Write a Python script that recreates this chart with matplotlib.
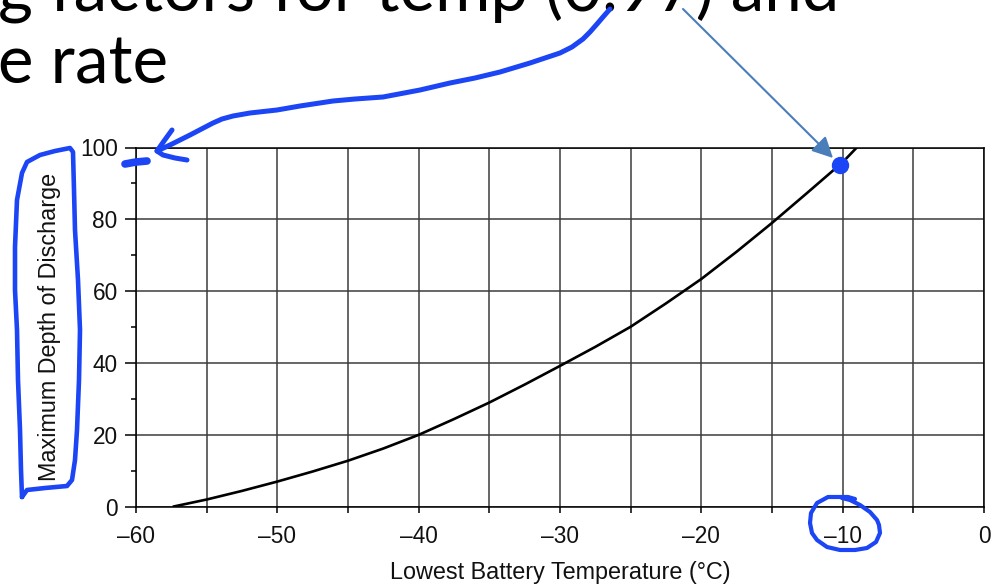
import matplotlib
matplotlib.use("Agg")
import matplotlib.pyplot as plt
from matplotlib.lines import Line2D
from matplotlib.patches import FancyArrowPatch
from matplotlib.transforms import Affine2D

# ---------------- data ----------------
temp_c = [-57.4, -55, -52.5, -50, -47.5, -45, -42.5, -40, -37.5, -35, -32.5,
          -30, -27.5, -25, -22.5, -20, -17.5, -15, -12.5, -10, -9.0]
max_dod = [0, 2.0, 4.4, 7.0, 9.8, 12.8, 16.2, 20.0, 24.4, 29.0, 34.0,
           39.2, 44.5, 50.1, 56.6, 63.4, 71.0, 79.0, 87.4, 95.9, 100.0]

x_major = [-60, -50, -40, -30, -20, -10, 0]
x_labels = ["\u201360", "\u201350", "\u201340", "\u201330", "\u201320", "\u201310", "0"]
x_minor = [-55, -45, -35, -25, -15, -5]
y_major = [0, 20, 40, 60, 80, 100]
y_labels = ["0", "20", "40", "60", "80", "100"]
y_minor = [10, 30, 50, 70, 90]

highlight_x = [-10.2]
highlight_y = [95.1]

title_line1 = "g factors for temp (0.97) and"
title_line2 = "e rate"
x_title = "Lowest Battery Temperature (\u00b0C)"
y_title = "Maximum Depth of Discharge"

# ---------------- figure ----------------
W, H = 998, 585
fig = plt.figure(figsize=(W / 100, H / 100), dpi=100)
fig.patch.set_facecolor("white")
pxT = Affine2D().scale(1 / W, -1 / H).translate(0, 1) + fig.transFigure

L, R, T, B = 136, 984, 147.5, 506.7
ax = fig.add_axes([L / W, 1 - B / H, (R - L) / W, (B - T) / H])

ax.plot(temp_c, max_dod, color="black", lw=1.9, zorder=4,
        solid_joinstyle="round", solid_capstyle="butt")
ax.set_xlim(-60, 0)
ax.set_ylim(0, 100)

ax.set_xticks(x_major)
ax.set_xticklabels(x_labels)
ax.set_xticks(x_minor, minor=True)
ax.set_yticks(y_major)
ax.set_yticklabels(y_labels)
ax.set_yticks(y_minor, minor=True)

for lab in ax.get_xticklabels() + ax.get_yticklabels():
    lab.set_fontfamily("Liberation Sans")
    lab.set_fontsize(16.3)

ax.tick_params(axis="x", which="both", direction="out", length=4.3, width=1.1,
               color="black", pad=9.0, labelcolor="#111111")
ax.tick_params(axis="y", which="major", direction="out", length=7.9, width=1.1,
               color="black", pad=5.3, labelcolor="#111111")
ax.tick_params(axis="y", which="minor", direction="out", length=3.6, width=1.1,
               color="black")

grid_c = "#3c3c3c"
ax.grid(True, axis="x", which="both", color=grid_c, lw=1.1)
ax.grid(True, axis="y", which="major", color=grid_c, lw=1.1)
ax.set_axisbelow(True)
for s in ax.spines.values():
    s.set_color("black")
    s.set_linewidth(1.1)

ax.set_xlabel(x_title, family="Liberation Sans", fontsize=16.8, color="#111111")
ax.xaxis.set_label_coords(0.5, -(560.5 - B) / (B - T))
ax.xaxis.label.set_verticalalignment("top")
ax.set_ylabel(y_title, family="Liberation Sans", fontsize=16.8, color="#111111")
ax.yaxis.set_label_coords((50 - L) / (R - L), 0.5)
ax.yaxis.label.set_verticalalignment("center")

# highlighted point
pen = "#1b45f5"
ax.plot(highlight_x, highlight_y, "o", ms=11.5, color=pen, clip_on=False, zorder=6)

# ---------------- slide title text (cropped as in the reference) ----------------
t1 = fig.text(-2, 12, title_line1, transform=pxT, family="Lato", fontsize=50,
              va="baseline", ha="left", color="black")
t2 = fig.text(-2, 83, title_line2, transform=pxT, family="Lato", fontsize=50,
              va="baseline", ha="left", color="black")
fig.canvas.draw()
r = fig.canvas.get_renderer()
w1 = t1.get_window_extent(r).width
fs = 50 * 840 / w1
t1.set_fontsize(fs)
t2.set_fontsize(fs)

# ---------------- hand-drawn annotations (pixel coords) ----------------
def stroke(pts, lw=3.6, color=pen):
    xs = [p[0] for p in pts]
    ys = [p[1] for p in pts]
    fig.add_artist(Line2D(xs, ys, transform=pxT, color=color, lw=lw,
                          solid_capstyle="round", solid_joinstyle="round",
                          zorder=10))

# curved arrow from title to the 100 label
stroke([(610, 9), (603, 17), (597, 24), (590, 32), (583, 39), (572, 47), (560, 53),
        (530, 63), (500, 72), (475, 78), (450, 83), (420, 90), (383, 97),
        (355, 99), (333, 101), (300, 106), (277, 110), (250, 113), (233, 116),
        (222, 119), (213, 123), (190, 135), (170, 145), (157, 151)])
stroke([(172, 130), (164, 141), (157, 151), (163, 155), (175, 158), (187, 160)])
# dash near 100
stroke([(125, 164), (136, 162), (147, 161)], lw=5.5)
# box around y-axis label
stroke([(22, 497), (21, 470), (20, 430), (18, 380), (17, 330), (15, 290),
        (15, 247), (17, 200), (22, 173), (27, 162), (40, 155), (55, 151),
        (70, 148), (73, 152), (74, 190), (75, 230), (78, 280), (80, 330),
        (79, 380), (77, 430), (75, 460), (72, 480), (67, 486), (45, 488),
        (27, 490), (22, 497)], lw=3.3)
# circle around -10
stroke([(855, 499), (848, 497), (840, 497), (828, 497), (817, 503), (811, 513),
        (810, 523), (812, 533), (817, 540), (827, 547), (840, 550), (855, 550),
        (867, 548), (876, 542), (880, 533), (879, 525), (877, 520), (870, 512),
        (860, 505), (850, 500), (842, 498)], lw=3.0)

# thin straight arrow to the point
arr = FancyArrowPatch(posA=(683, 9), posB=(833, 158), transform=pxT,
                      arrowstyle="-|>,head_length=0.7,head_width=0.35",
                      mutation_scale=18, color="#4a7ebb", lw=1.5,
                      shrinkA=0, shrinkB=0, zorder=9)
fig.add_artist(arr)

fig.savefig("out.png", dpi=100, facecolor="white")
